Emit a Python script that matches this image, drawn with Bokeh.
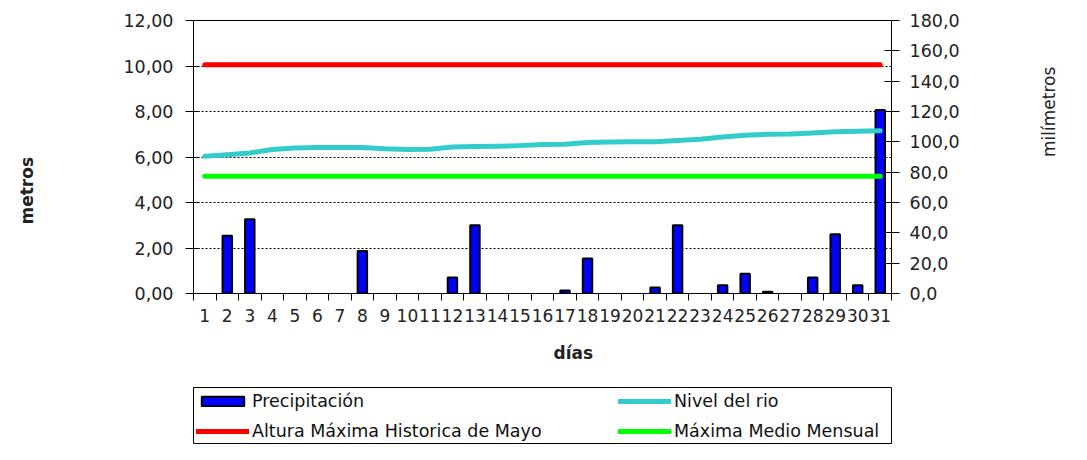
import math
from bokeh.plotting import figure
from bokeh.layouts import column
from bokeh.models import (Range1d, LinearAxis, FixedTicker, Legend, LegendItem, Title,
                          ColumnDataSource, CDSView, BooleanFilter)
from bokeh.embed import file_html
from bokeh.resources import INLINE

# ---------------- data ----------------
days = list(range(1, 32))
day_labels = [str(d) for d in days]
precipitacion = [0, 38, 49, 0, 0, 0, 0, 28, 0, 0, 0, 10.5, 45, 0, 0, 0, 2, 23, 0, 0,
                 4, 45, 0, 5.5, 13, 1.2, 0, 10.5, 39, 5.5, 121]
nivel_rio = [6.03, 6.10, 6.18, 6.33, 6.40, 6.42, 6.42, 6.42, 6.36, 6.33, 6.34, 6.44,
             6.46, 6.47, 6.50, 6.55, 6.56, 6.64, 6.66, 6.67, 6.67, 6.72, 6.78, 6.88,
             6.96, 7.00, 7.01, 7.06, 7.11, 7.13, 7.15]
altura_max_hist = [10.05] * len(days)
maxima_medio = [5.15] * len(days)
metros_ticks = [0, 2, 4, 6, 8, 10, 12]
metros_labels = ["0,00", "2,00", "4,00", "6,00", "8,00", "10,00", "12,00"]
mm_ticks = [0, 20, 40, 60, 80, 100, 120, 140, 160, 180]
mm_labels = ["0,0", "20,0", "40,0", "60,0", "80,0", "100,0", "120,0", "140,0", "160,0", "180,0"]

FONT = "DejaVu Sans"
TXT = "#222222"
BAR = dict(fill_color="#0000FF", line_color="black", line_width=2)
RED = dict(line_color="#FF0000", line_width=5, line_cap="round")
CYAN = dict(line_color="#33CCCC", line_width=5, line_cap="round", line_join="round")
GREEN = dict(line_color="#00FF00", line_width=5, line_cap="round")

# ---------------- chart ----------------
p = figure(width=1071, height=386, output_backend="svg", toolbar_location=None,
           x_range=Range1d(0.5, 31.5), y_range=Range1d(0, 12),
           min_border_left=193, min_border_right=180, min_border_top=20, min_border_bottom=93)
p.extra_y_ranges = {"mm": Range1d(0, 180)}
p.outline_line_color = "black"
p.outline_line_width = 1

src = ColumnDataSource(dict(x=days, top=precipitacion))
view = CDSView(filter=BooleanFilter([v > 0 for v in precipitacion]))
p.vbar(x="x", top="top", width=0.42, source=src, view=view, y_range_name="mm", **BAR)
p.line(days, altura_max_hist, **RED)
p.line(days, nivel_rio, **CYAN)
p.line(days, maxima_medio, **GREEN)


def style_axis(ax, size="17.5px"):
    ax.axis_line_color = "black"
    ax.major_tick_line_color = "black"
    ax.minor_tick_line_color = "black"
    ax.major_label_text_font = FONT
    ax.major_label_text_font_size = size
    ax.major_label_text_color = TXT


def title_axis(ax, text, bold, standoff, orient):
    ax.ticker = FixedTicker(ticks=[])
    ax.axis_line_color = None
    ax.major_tick_line_color = None
    ax.minor_tick_line_color = None
    ax.axis_label = text
    ax.axis_label_text_font = FONT
    ax.axis_label_text_font_size = "17px"
    ax.axis_label_text_color = TXT
    ax.axis_label_text_font_style = "bold" if bold else "normal"
    ax.axis_label_standoff = standoff
    ax.axis_label_orientation = orient


# x axis
xa = p.xaxis[0]
style_axis(xa, "17px")
xa.ticker = FixedTicker(ticks=days, minor_ticks=[d - 0.5 for d in days] + [31.5])
xa.major_label_overrides = {d: s for d, s in zip(days, day_labels)}
xa.major_tick_out = 0
xa.major_tick_in = 0
xa.minor_tick_out = 7
xa.minor_tick_in = 0
xa.major_label_standoff = 8

# left axis
ya = p.yaxis[0]
style_axis(ya)
ya.ticker = FixedTicker(ticks=metros_ticks)
ya.major_label_overrides = {t: s for t, s in zip(metros_ticks, metros_labels)}
ya.major_tick_out = 8
ya.major_tick_in = 6
ya.minor_tick_out = 0
ya.minor_tick_in = 0
ya.major_label_standoff = 12

# right axis
ra = LinearAxis(y_range_name="mm", ticker=FixedTicker(ticks=mm_ticks))
style_axis(ra)
ra.major_label_overrides = {t: s for t, s in zip(mm_ticks, mm_labels)}
ra.major_tick_out = 8
ra.major_tick_in = 7
ra.minor_tick_out = 0
ra.minor_tick_in = 0
ra.major_label_standoff = 10
p.add_layout(ra, "right")

# axis titles
lt = LinearAxis()
title_axis(lt, "metros", True, 94, -1.5 * math.pi)
p.add_layout(lt, "left")
rt = LinearAxis(y_range_name="mm")
title_axis(rt, "milímetros", False, 86, 0.5 * math.pi)
p.add_layout(rt, "right")
p.add_layout(Title(text="días", align="left", offset=360, vertical_align="bottom", standoff=33,
                   text_font=FONT, text_font_size="17px", text_font_style="bold",
                   text_color=TXT), "below")

p.xgrid.grid_line_color = None
p.ygrid.ticker = FixedTicker(ticks=metros_ticks[1:-1])
p.ygrid.grid_line_color = "black"
p.ygrid.grid_line_dash = "2 2"
p.ygrid.grid_line_width = 1

# ---------------- legend box (a second plot whose frame is the box) ----------------
q = figure(width=1071, height=58, output_backend="svg", toolbar_location=None,
           x_axis_location=None, y_axis_location=None,
           x_range=Range1d(0.5, 31.5), y_range=Range1d(500, 501),
           min_border_left=193, min_border_right=180, min_border_top=1, min_border_bottom=0)
q.outline_line_color = "black"
q.outline_line_width = 1
q.xgrid.grid_line_color = None
q.ygrid.grid_line_color = None
# same series, kept below the visible range; they only supply the legend swatches
e_bar = q.vbar(x=days, top=precipitacion, width=0.42, **BAR)
e_red = q.line(days, altura_max_hist, **RED)
e_cyan = q.line(days, nivel_rio, **CYAN)
e_green = q.line(days, maxima_medio, **GREEN)

legend = Legend(items=[LegendItem(label="Precipitación", renderers=[e_bar]),
                       LegendItem(label="Altura Máxima Historica de Mayo", renderers=[e_red]),
                       LegendItem(label="Nivel del rio", renderers=[e_cyan]),
                       LegendItem(label="Máxima Medio Mensual", renderers=[e_green])],
                ncols=2, location=(3, 3), margin=0, padding=0, spacing=10,
                border_line_alpha=0, background_fill_alpha=0,
                glyph_width=53, glyph_height=12, label_height=20, label_width=356,
                label_standoff=3, label_text_font=FONT, label_text_font_size="17.5px",
                label_text_color="#111111")
q.add_layout(legend)

layout = column(p, q, spacing=0)
open("out.html", "w").write(file_html(layout, INLINE))
